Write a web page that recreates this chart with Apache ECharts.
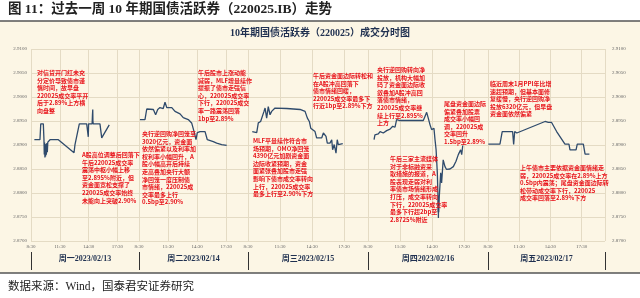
<!DOCTYPE html>
<html>
<head>
<meta charset="utf-8">
<script src="https://cdn.jsdelivr.net/npm/echarts@6/dist/echarts.min.js"></script>
<style>
  html, body { margin: 0; padding: 0; background: #fff; }
  #chart { width: 640px; height: 298px; }
</style>
</head>
<body>
<div id="chart"></div>
<script>
// 每天的日期标签
var days = ['周一2023/02/13', '周二2023/02/14', '周三2023/02/15', '周四2023/02/16', '周五2023/02/17'];

// 分时成交收益率（%），时间与数值一一对应
var monTime = ['8:51', '9:26', '9:31', '9:47', '9:51', '9:53', '9:55', '9:57', '9:59', '10:01', '10:04', '10:06', '10:09', '10:12', '10:15', '10:18', '10:29', '11:21', '12:59', '13:05', '13:32', '14:18', '14:28', '14:30', '14:52', '14:54', '14:56', '14:57', '14:59', '15:41', '15:52', '16:39'];
var monRate = [2.8911, 2.8911, 2.8944, 2.8944, 2.8911, 2.8880, 2.8905, 2.8874, 2.8900, 2.8876, 2.8902, 2.8880, 2.8904, 2.8885, 2.8906, 2.8902, 2.8911, 2.8911, 2.8884, 2.8901, 2.8944, 2.8944, 2.8917, 2.8944, 2.8944, 2.8962, 2.8974, 2.8950, 2.8944, 2.8944, 2.8915, 2.8942];

var tueTime = ['8:36', '9:07', '9:18', '9:59', '10:13', '10:26', '10:40', '11:00', '11:11', '11:22', '11:53', '12:13', '12:44', '13:04', '13:35', '13:56', '14:11', '14:23', '14:31', '14:48', '15:19', '15:33', '15:44', '16:10', '16:31', '17:02', '17:33'];
var tueRate = [2.8953, 2.8953, 2.8975, 2.8974, 2.8963, 2.8974, 2.8978, 2.8976, 2.8989, 2.8978, 2.8978, 2.8970, 2.8965, 2.8957, 2.8953, 2.8946, 2.8928, 2.8911, 2.8926, 2.8928, 2.8928, 2.8911, 2.8911, 2.8907, 2.8904, 2.8901, 2.8899];

var wedTime = ['8:54', '9:19', '9:28', '9:41', '9:50', '10:00', '10:06', '10:15', '10:24', '10:34', '10:43', '11:02', '12:08', '13:23', '13:51', '14:04', '14:15', '14:23', '14:34', '14:47', '14:56', '15:25', '15:34', '15:49', '15:56', '16:11', '16:21', '16:26', '16:35', '16:45', '16:52', '16:58', '17:23'];
var wedRate = [2.8928, 2.8926, 2.8946, 2.8949, 2.8946, 2.8970, 2.8977, 2.8956, 2.8980, 2.8963, 2.8970, 2.8977, 2.8976, 2.8974, 2.8970, 2.8956, 2.8949, 2.8935, 2.8939, 2.8928, 2.8915, 2.8915, 2.8925, 2.8918, 2.8904, 2.8904, 2.8911, 2.8890, 2.8901, 2.8883, 2.8911, 2.8901, 2.8903];

var thuTime = ['9:04', '9:09', '9:28', '9:38', '9:56', '10:15', '10:34', '10:49', '11:02', '11:11', '11:20', '11:30', '13:41', '13:51', '14:00', '14:09', '14:19', '14:28', '14:41', '14:47', '14:53', '15:00', '15:03', '15:04', '15:05', '15:06', '15:07', '15:08', '15:11', '15:19', '15:24', '15:33', '15:43', '15:52', '16:11', '16:30', '16:45', '16:58', '17:08', '17:11', '17:17', '17:23'];
var thuRate = [2.8911, 2.8921, 2.8923, 2.8928, 2.8925, 2.8930, 2.8933, 2.8939, 2.8937, 2.8953, 2.8956, 2.8951, 2.8951, 2.8960, 2.8968, 2.8956, 2.8942, 2.8932, 2.8935, 2.8911, 2.8890, 2.8842, 2.8800, 2.8760, 2.8795, 2.8748, 2.8785, 2.8760, 2.8793, 2.8842, 2.8821, 2.8869, 2.8855, 2.8849, 2.8850, 2.8855, 2.8866, 2.8880, 2.8883, 2.8890, 2.8880, 2.8899];

var friTime = ['8:32', '9:39', '9:52', '10:52', '10:58', '11:04', '11:16', '11:25', '13:59', '14:09', '14:18', '14:37', '15:06', '15:54', '16:17', '16:23', '16:58', '17:05', '17:40', '17:50', '18:15'];
var friRate = [2.8902, 2.8902, 2.8928, 2.8928, 2.8901, 2.8928, 2.8925, 2.8928, 2.8949, 2.8953, 2.8947, 2.8947, 2.8928, 2.8902, 2.8902, 2.8890, 2.8890, 2.8902, 2.8902, 2.8881, 2.8881];

var dayTimes = [monTime, tueTime, wedTime, thuTime, friTime];
var dayRates = [monRate, tueRate, wedRate, thuRate, friRate];

// y轴范围与刻度
var yMin = 2.87, yMax = 2.91, yStep = 0.005;

// 每天的文字说明
var notes = [
  { x: 37, y: 69, lines: ['对信贷开门红未充', '分定价导致债市谨', '慎时间，故早盘', '220025成交率平开', '后于2.89%上方横', '向盘整'] },
  { x: 82, y: 151, lines: ['A股高位调整后回落下', '午后220025成交率', '震荡中枢小幅上移', '至2.895%附近，但', '资金面宽松支撑了', '220025成交率始终', '未能向上突破2.90%'] },
  { x: 142, y: 130, lines: ['央行逆回购净回笼至', '3020亿元，资金面', '依然偏紧以及利率加', '权利率小幅回升，A', '股小幅高开后持续', '走高叠加央行大额', '净回笼一度压制债', '市情绪，220025成', '交率最多上行', '0.5bp至2.90%'] },
  { x: 198, y: 69, lines: ['午后股市上涨动能', '减弱，MLF增量续作', '提振了债市走强信', '心，220025成交率', '下行，220025成交', '率一路震荡回落', '1bp至2.89%'] },
  { x: 253, y: 137, lines: ['MLF平量续作符合市', '场预期，OMO净回笼', '4390亿元加剧资金面', '边际收紧预期，资金', '面紧张叠加股市走强', '影响下债市成交率转向', '上行，220025成交率', '最多上行至2.90%下方'] },
  { x: 313, y: 72, lines: ['午后资金面边际转松和', '在A股冲高回落下', '债市情绪回暖，', '220025成交率最多下', '行近1bp至2.89%下方'] },
  { x: 377, y: 66, lines: ['央行逆回购转向净', '投放，机构大幅加', '码了资金面边际收', '敛叠加A股冲高回', '落债市情绪，', '220025成交率继', '续上行至2.895%', '上方'] },
  { x: 390, y: 155, lines: ['午后三家主流媒体', '对于非标融资采', '取措施的报道，A', '股表现走弱对利', '率债市场情绪形成', '打压，成交率转向', '下行，220025成交率', '最多下行超2bp至', '2.8725%附近'] },
  { x: 444, y: 100, lines: ['尾盘资金面边际', '偏紧叠加股票', '成交率小幅回', '调，220025成', '交率回升', '1.5bp至2.89%'] },
  { x: 490, y: 80, lines: ['临近周末1月PPI年比增', '速超预期，但基本面修', '复缓慢，央行逆回购净', '投放6320亿元，但早盘', '资金面依然偏紧'] },
  { x: 520, y: 164, lines: ['上午债市主要依据资金面情绪走', '弱，220025成交率在2.89%上方', '0.5bp内震荡；尾盘资金面边际转', '松带动成交率下行，220025', '成交率回落至2.89%下方'] }
];

// 版面：每天一个网格
var gridLeft = [31, 139, 248, 368, 488];
var gridWidth = [108, 109, 120, 120, 117];
var dayLen = 675; // 8:30 起算的分钟数

function toMin(t) {
  var p = t.split(':');
  return parseInt(p[0], 10) * 60 + parseInt(p[1], 10) - 510;
}

function minLabel(v) {
  if (v % 180 !== 0 || v > 540) return '';
  var m = v + 510;
  var h = Math.floor(m / 60);
  var mm = m % 60;
  return h + ':' + (mm < 10 ? '0' + mm : mm);
}

var chartDom = document.getElementById('chart');
var myChart = echarts.init(chartDom, null, { renderer: 'canvas' });

var grids = [], xAxes = [], yAxes = [], series = [];
for (var i = 0; i < days.length; i++) {
  grids.push({ left: gridLeft[i], width: gridWidth[i], top: 49, height: 192 });

  xAxes.push({
    gridIndex: i,
    type: 'value',
    min: 0,
    max: dayLen,
    interval: 180,
    axisLine: { show: false },
    axisTick: { show: false },
    splitLine: { show: true, lineStyle: { color: '#e4dbc4', width: 1 } },
    axisLabel: {
      formatter: minLabel,
      showMaxLabel: false,
      fontSize: 5,
      color: '#666',
      margin: 3,
      fontFamily: 'Liberation Serif'
    }
  });

  xAxes.push({
    gridIndex: i,
    type: 'category',
    data: [days[i]],
    position: 'bottom',
    offset: 11,
    axisLine: { show: false },
    axisTick: { show: true, length: 18, lineStyle: { color: '#333', width: 1 } },
    splitLine: { show: false },
    axisLabel: {
      fontSize: 8,
      fontWeight: 'bold',
      color: '#1f3050',
      margin: 3,
      fontFamily: 'Liberation Serif, Noto Sans CJK SC'
    }
  });

  yAxes.push({
    gridIndex: i,
    type: 'value',
    min: yMin,
    max: yMax,
    interval: yStep,
    position: i === days.length - 1 ? 'right' : 'left',
    axisLine: { show: false },
    axisTick: { show: false },
    splitLine: { show: true, lineStyle: { color: '#e4dbc4', width: 1 } },
    axisLabel: {
      show: i === 0 || i === days.length - 1,
      formatter: function (v) { return v.toFixed(4); },
      fontSize: 5,
      color: '#666',
      margin: i === 0 ? 4 : 7,
      fontFamily: 'Liberation Serif'
    }
  });

  var pts = [];
  for (var k = 0; k < dayTimes[i].length; k++) {
    pts.push([toMin(dayTimes[i][k]), dayRates[i][k]]);
  }
  series.push({
    name: days[i],
    type: 'line',
    xAxisIndex: i * 2,
    yAxisIndex: i,
    data: pts,
    symbol: 'none',
    smooth: false,
    lineStyle: { color: '#2f4b6c', width: 1.3 },
    animation: false
  });
}

var graphics = [
  { type: 'rect', shape: { x: 0, y: 0, width: 640, height: 21 }, style: { fill: '#fff' } },
  { type: 'rect', shape: { x: 0, y: 273, width: 640, height: 25 }, style: { fill: '#fff' } },
  { type: 'line', shape: { x1: 0, y1: 21, x2: 640, y2: 21 }, style: { stroke: '#555', lineWidth: 1.5 } },
  { type: 'line', shape: { x1: 0, y1: 273, x2: 640, y2: 273 }, style: { stroke: '#555', lineWidth: 1.5 } },
  {
    type: 'text', left: 8, top: 3,
    style: { text: '图 11：过去一周 10 年期国债活跃券（220025.IB）走势', fill: '#222', font: 'bold 13.5px "Liberation Serif", "Noto Sans CJK SC"' }
  },
  {
    type: 'text', left: 'center', top: 28,
    style: { text: '10年期国债活跃券（220025）成交分时图', fill: '#1f3050', font: 'bold 10px "Liberation Serif", "Noto Sans CJK SC"' }
  },
  {
    type: 'text', left: 8, top: 281,
    style: { text: '数据来源：Wind，国泰君安证券研究', fill: '#222', font: '11.5px "Liberation Serif", "Noto Sans CJK SC"' }
  }
];

for (var n = 0; n < notes.length; n++) {
  graphics.push({
    type: 'text',
    x: notes[n].x,
    y: notes[n].y,
    z: 100,
    style: {
      text: notes[n].lines.join('\n'),
      fill: '#e8141b',
      font: 'bold 6px "Noto Sans CJK SC"',
      lineHeight: 7.6
    }
  });
}

var option = {
  backgroundColor: '#fcf6e5',
  animation: false,
  grid: grids,
  xAxis: xAxes,
  yAxis: yAxes,
  series: series,
  graphic: graphics
};

option && myChart.setOption(option);
</script>
</body>
</html>
